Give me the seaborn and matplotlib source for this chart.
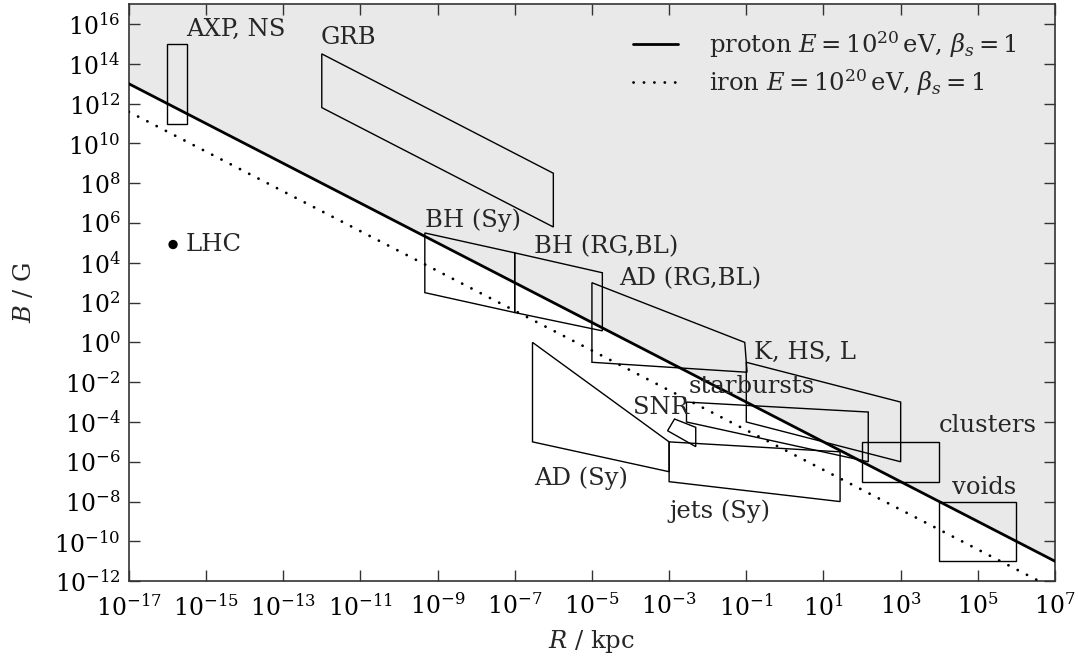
import numpy as np
import pandas as pd
import matplotlib
matplotlib.use("Agg")
import matplotlib.pyplot as plt
import seaborn as sns
from matplotlib.patches import Polygon
from matplotlib.lines import Line2D

# ---- Hillas limit lines (end points) ----
line_R = [1e-17, 1e7]
proton_B = [1e13, 1e-11]
iron_B = [3.9e11, 3.9e-13]

# ---- source regions: vertices in log10(R/kpc), log10(B/G) ----
axp_R = [-16.0, -16.0, -15.5, -15.5]
axp_B = [11.0, 15.0, 15.0, 11.0]
grb_R = [-12.0, -12.0, -6.0, -6.0]
grb_B = [14.5, 11.8, 5.8, 8.5]
bhsy_R = [-9.33, -9.33, -7.0, -7.0]
bhsy_B = [5.5, 2.5, 1.5, 4.5]
bhrg_R = [-7.0, -7.0, -4.73, -4.73]
bhrg_B = [4.5, 1.5, 0.58, 3.5]
adrg_R = [-5.0, -5.0, -0.98, -1.04]
adrg_B = [3.0, -1.0, -1.5, 0.0]
khsl_R = [-1.0, -1.0, 3.0, 3.0]
khsl_B = [-1.0, -4.0, -6.0, -3.0]
starb_R = [-2.55, -2.55, 2.16, 2.16]
starb_B = [-3.0, -4.0, -6.0, -3.5]
snr_R = [-2.86, -2.31, -2.31, -3.04]
snr_B = [-3.85, -4.27, -5.24, -4.44]
adsy_R = [-6.54, -6.54, -3.0, -3.0]
adsy_B = [0.0, -5.0, -6.5, -5.0]
jets_R = [-3.0, -3.0, 1.43, 1.43]
jets_B = [-5.0, -7.0, -8.0, -5.5]
clus_R = [2.0, 2.0, 4.0, 4.0]
clus_B = [-7.0, -5.0, -5.0, -7.0]
voids_R = [4.0, 4.0, 6.0, 6.0]
voids_B = [-11.0, -8.0, -8.0, -11.0]

# LHC point
lhc_R = [1.4e-16]
lhc_B = [8.3e4]

# labels: text, log10 R, log10 B (left / centre anchor)
label_text = ["AXP, NS", "GRB", "LHC", "BH (Sy)", "BH (RG,BL)", "AD (RG,BL)",
              "K, HS, L", "starbursts", "SNR", "clusters", "voids", "AD (Sy)", "jets (Sy)"]
label_R = [-15.52, -12.02, -15.54, -9.33, -6.50, -4.30, -0.80, -2.49, -3.94, 3.99, 4.33, -6.50, -3.0]
label_B = [15.75, 15.3, 4.92, 6.13, 4.82, 3.22, -0.49, -2.20, -3.25, -4.20, -7.27, -6.81, -8.51]

legend_labels = [r"proton $E = 10^{20}\,$eV, $\beta_s = 1$",
                 r"iron $E = 10^{20}\,$eV, $\beta_s = 1$"]

x_ticks = [10.0 ** e for e in range(-17, 8, 2)]
y_ticks = [10.0 ** e for e in range(-12, 17, 2)]

regions = [(axp_R, axp_B), (grb_R, grb_B), (bhsy_R, bhsy_B), (bhrg_R, bhrg_B),
           (adrg_R, adrg_B), (khsl_R, khsl_B), (starb_R, starb_B), (snr_R, snr_B),
           (adsy_R, adsy_B), (jets_R, jets_B), (clus_R, clus_B), (voids_R, voids_B)]

FS = 17.5
TFS = 17
DOT = (0, (0.05, 3.7))

sns.set_theme(style="ticks")
plt.rcParams["font.family"] = ["DejaVu Serif"]
plt.rcParams["mathtext.fontset"] = "dejavuserif"
plt.rcParams["font.size"] = FS
plt.rcParams["axes.edgecolor"] = "#333333"
plt.rcParams["xtick.color"] = "#333333"
plt.rcParams["ytick.color"] = "#333333"
plt.rcParams["xtick.labelcolor"] = "black"
plt.rcParams["ytick.labelcolor"] = "black"

fig = plt.figure(figsize=(10.78, 6.68), dpi=100)
ax = fig.add_axes([0.1195, 0.130, 0.8592, 0.8638])
ax.set_xscale("log")
ax.set_yscale("log")
ax.set_xlim(1e-17, 1e7)
ax.set_ylim(1e-12, 1e17)

# shaded region above proton line
ax.fill_between(line_R, proton_B, [1e17, 1e17], color="#e9e9e9", lw=0, zorder=0)

for rr, bb in regions:
    verts = np.column_stack([10.0 ** np.array(rr), 10.0 ** np.array(bb)])
    ax.add_patch(Polygon(verts, closed=True, fill=False, edgecolor="black", lw=1.0, zorder=2))

df = pd.DataFrame({"R": line_R * 2, "B": proton_B + iron_B,
                   "kind": [legend_labels[0]] * 2 + [legend_labels[1]] * 2})
sns.lineplot(data=df, x="R", y="B", style="kind", color="black",
             dashes={legend_labels[0]: "", legend_labels[1]: (1, 4)},
             linewidth=2.0, ax=ax, zorder=3, legend=False)
lines = ax.get_lines()
lines[1].set_linewidth(2.0)
lines[1].set_linestyle(DOT)
lines[1].set_dash_capstyle("round")

sns.scatterplot(x=lhc_R, y=lhc_B, color="black", s=45, ax=ax, zorder=4, edgecolor="none")

for t, lr, lb in zip(label_text, label_R, label_B):
    ax.text(10 ** lr, 10 ** lb, t, ha="left", va="center", fontsize=FS, zorder=5)

h1 = Line2D([], [], color="black", lw=2.0)
h2 = Line2D([], [], color="black", lw=2.0, linestyle=DOT, dash_capstyle="round")
ax.legend([h1, h2], legend_labels,
          loc="upper left", bbox_to_anchor=(0.544, 0.957), frameon=False,
          borderpad=0, borderaxespad=0, handlelength=1.85, handletextpad=1.3,
          labelspacing=0.3, fontsize=FS)

ax.set_xticks(x_ticks)
ax.set_yticks(y_ticks)
ax.minorticks_off()
ax.tick_params(which="major", direction="in", length=8, width=1.0, top=True, right=True,
               labelsize=TFS)
ax.tick_params(axis="x", pad=9)
ax.tick_params(axis="y", pad=6)
for s in ax.spines.values():
    s.set_linewidth(1.2)
    s.set_visible(True)

ax.set_xlabel(r"$R$ / kpc", fontsize=FS, labelpad=6)
ax.set_ylabel(r"$B$ / G", fontsize=FS, labelpad=13)

fig.savefig("out.png", dpi=100)
